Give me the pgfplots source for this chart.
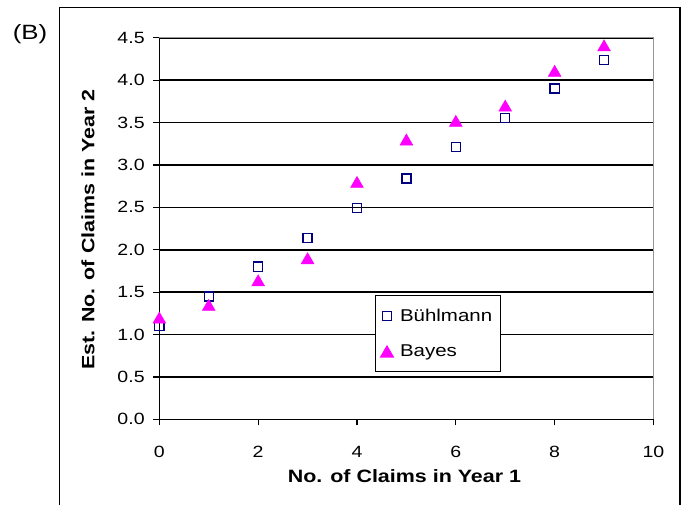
\documentclass[border=0pt]{standalone}
\usepackage{pgfplots}
\pgfplotsset{compat=1.18}
\usepackage{fontspec}
\setmainfont{Liberation Sans}[FakeStretch=1.2]
\newfontfamily\titlefont{Liberation Sans}[FakeStretch=1.25]
\definecolor{navyb}{RGB}{0,0,128}
\definecolor{mag}{RGB}{255,0,255}
\definecolor{frame}{RGB}{150,150,150}

\pgfplotstableread{
x y
0 1.10
1 1.45
2 1.80
3 2.14
4 2.49
5 2.84
6 3.21
7 3.55
8 3.90
9 4.24
}\buhl

\pgfplotstableread{
x y
0 1.20
1 1.35
2 1.64
3 1.90
4 2.80
5 3.30
6 3.52
7 3.70
8 4.11
9 4.41
}\bayes

\begin{document}
\begin{tikzpicture}
\path[use as bounding box] (0,0) rectangle (516.75pt,378pt);
\draw[line width=1.1pt] (44.5pt,-5pt) -- (44.5pt,372.4pt) -- (510pt,372.4pt) -- (510pt,-5pt);
\node[font=\titlefont\fontsize{15.5}{17}\selectfont] at (22.5pt,352.5pt) {(B)};
\begin{axis}[
    at={(119.5pt,63.5pt)}, anchor=south west,
    scale only axis,
    width=370.6pt, height=286.2pt,
    xmin=0, xmax=10, ymin=0, ymax=4.5,
    xtick={0,2,...,10},
    ytick={0,0.5,...,4.5},
    axis x line*=bottom, axis y line*=left,
    axis line style={line width=1.1pt, -},
    tick align=outside,
    major tick length=4.5pt,
    tick style={line width=0.9pt, black},
    ymajorgrids,
    grid style={line width=1.2pt, black},
    font=\fontsize{12.2}{14}\selectfont,
    /pgf/number format/assume math mode=true,
    yticklabel style={/pgf/number format/fixed, /pgf/number format/fixed zerofill,
        /pgf/number format/precision=1, xshift=-3pt},
    xticklabel style={yshift=-12pt},
    xlabel={\bfseries No. of Claims in Year 1},
    ylabel={\bfseries Est. No. of Claims in Year 2},
    xlabel style={at={(axis description cs:0.496,-0.1485)}, anchor=center, font=\fontsize{13.4}{15}\selectfont},
    ylabel style={at={(axis description cs:-0.1444,0.497)}, anchor=center, font=\fontsize{13.4}{15}\selectfont},
    legend style={at={(axis cs:4.36,1.466)}, anchor=north west, draw=black, line width=0.8pt,
        fill=white, font=\fontsize{12.8}{14}\selectfont, row sep=12pt,
        inner xsep=4pt, inner ysep=8pt,
        /tikz/every odd column/.append style={column sep=3pt}},
    legend cell align=left,
    clip=false,
]
\addplot[only marks, mark=square, mark size=3.4pt, mark options={navyb, line width=1pt}] table {\buhl};
\addlegendentry{Bühlmann}
\addplot[only marks, mark=triangle*, mark size=5.5pt, mark options={mag, fill=mag, yshift=-1.4pt}] table {\bayes};
\addlegendentry{Bayes}
\draw[frame, line width=1.1pt] (rel axis cs:0,1) -- (rel axis cs:1,1) -- (rel axis cs:1,0);
\end{axis}
\end{tikzpicture}
\end{document}
